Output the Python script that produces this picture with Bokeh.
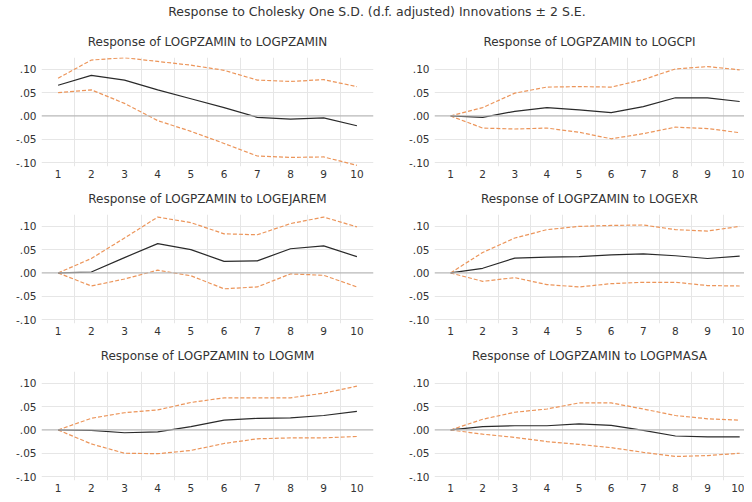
from bokeh.plotting import figure
from bokeh.layouts import column, row
from bokeh.models import Div, FixedTicker, CustomJSTickFormatter, Span, Range1d
from bokeh.embed import file_html
from bokeh.resources import INLINE

periods = [1, 2, 3, 4, 5, 6, 7, 8, 9, 10]
y_ticks = [-0.10, -0.05, 0.0, 0.05, 0.10]
grid_x = [1.5, 2.5, 3.5, 4.5, 5.5, 6.5, 7.5, 8.5, 9.5]

main_title = "Response to Cholesky One S.D. (d.f. adjusted) Innovations \u00b1 2 S.E."
panel_titles = [
    "Response of LOGPZAMIN to LOGPZAMIN",
    "Response of LOGPZAMIN to LOGCPI",
    "Response of LOGPZAMIN to LOGEJAREM",
    "Response of LOGPZAMIN to LOGEXR",
    "Response of LOGPZAMIN to LOGMM",
    "Response of LOGPZAMIN to LOGPMASA",
]

resp_pzamin = [0.066, 0.087, 0.077, 0.056, 0.037, 0.018, -0.003, -0.007, -0.004, -0.021]
upper_pzamin = [0.081, 0.120, 0.125, 0.117, 0.109, 0.098, 0.077, 0.074, 0.078, 0.063]
lower_pzamin = [0.050, 0.056, 0.027, -0.010, -0.033, -0.059, -0.086, -0.089, -0.088, -0.106]

resp_cpi = [0.0, -0.003, 0.010, 0.018, 0.013, 0.007, 0.020, 0.039, 0.039, 0.031]
upper_cpi = [0.0, 0.018, 0.049, 0.062, 0.063, 0.062, 0.078, 0.101, 0.106, 0.099]
lower_cpi = [0.0, -0.026, -0.028, -0.026, -0.035, -0.049, -0.038, -0.024, -0.027, -0.036]

resp_ejarem = [0.0, 0.002, 0.033, 0.063, 0.050, 0.025, 0.026, 0.052, 0.058, 0.035]
upper_ejarem = [0.0, 0.031, 0.075, 0.120, 0.108, 0.084, 0.082, 0.106, 0.120, 0.099]
lower_ejarem = [0.0, -0.028, -0.013, 0.006, -0.006, -0.034, -0.030, -0.002, -0.005, -0.030]

resp_exr = [0.0, 0.010, 0.032, 0.034, 0.035, 0.039, 0.041, 0.037, 0.031, 0.036]
upper_exr = [0.0, 0.044, 0.075, 0.093, 0.100, 0.102, 0.103, 0.093, 0.090, 0.100]
lower_exr = [0.0, -0.018, -0.010, -0.025, -0.030, -0.023, -0.020, -0.020, -0.027, -0.028]

resp_mm = [0.0, -0.001, -0.006, -0.004, 0.007, 0.021, 0.025, 0.026, 0.031, 0.040]
upper_mm = [0.0, 0.025, 0.037, 0.043, 0.059, 0.069, 0.069, 0.069, 0.079, 0.094]
lower_mm = [0.0, -0.030, -0.050, -0.051, -0.044, -0.029, -0.019, -0.017, -0.017, -0.014]

resp_pmasa = [0.0, 0.007, 0.009, 0.009, 0.013, 0.010, -0.001, -0.013, -0.015, -0.015]
upper_pmasa = [0.0, 0.023, 0.038, 0.045, 0.058, 0.058, 0.045, 0.031, 0.024, 0.021]
lower_pmasa = [0.0, -0.009, -0.016, -0.025, -0.031, -0.038, -0.048, -0.057, -0.055, -0.050]

series = [
    (resp_pzamin, upper_pzamin, lower_pzamin),
    (resp_cpi, upper_cpi, lower_cpi),
    (resp_ejarem, upper_ejarem, lower_ejarem),
    (resp_exr, upper_exr, lower_exr),
    (resp_mm, upper_mm, lower_mm),
    (resp_pmasa, upper_pmasa, lower_pmasa),
]

FONT = "DejaVu Sans"
TXT = "#333333"
fmt = CustomJSTickFormatter(code="""
var s = tick.toFixed(2);
if (s == "-0.00") { s = "0.00"; }
return s.replace("0.", ".");
""")


def make_panel(i, title, resp, upper, lower):
    right = (i % 2 == 1)
    if right:
        w, xr, mbr = 342, Range1d(0.5, 10.15), 0
    else:
        w, xr, mbr = 402, Range1d(0.5, 10.5), 29
    p = figure(width=w, height=157, x_range=xr, y_range=Range1d(-0.1085, 0.1255),
               output_backend="svg", toolbar_location=None,
               min_border_left=41 if not right else 32, min_border_right=mbr,
               min_border_top=0, min_border_bottom=15)
    p.title.text = title
    p.title.align = "center"
    p.title.text_font = FONT
    p.title.text_font_size = "12px"
    p.title.text_font_style = "normal"
    p.title.text_color = TXT
    p.title.standoff = 17
    p.outline_line_color = None
    p.background_fill_color = "white"
    p.border_fill_color = "white"

    p.xaxis.ticker = FixedTicker(ticks=periods)
    p.yaxis.ticker = FixedTicker(ticks=y_ticks)
    p.yaxis.formatter = fmt
    for ax in (p.xaxis, p.yaxis):
        ax.axis_line_color = None
        ax.major_tick_line_color = None
        ax.minor_tick_line_color = None
        ax.major_tick_out = 0
        ax.major_tick_in = 0
        ax.minor_tick_out = 0
        ax.minor_tick_in = 0
        ax.major_label_text_font = FONT
        ax.major_label_text_font_size = "10.5px"
        ax.major_label_text_color = TXT
    p.xaxis.major_label_standoff = 3
    p.yaxis.major_label_standoff = 5

    p.xgrid.ticker = FixedTicker(ticks=grid_x)
    p.xgrid.grid_line_color = "#e6e6e6"
    p.ygrid.ticker = FixedTicker(ticks=[-0.10, -0.05, 0.05, 0.10])
    p.ygrid.grid_line_color = "#e6e6e6"

    p.add_layout(Span(location=0, dimension="width", line_color="#b8b8b8", line_width=1.3))

    p.line(periods, upper, line_color="#ec955a", line_width=1.2, line_dash="4 2")
    p.line(periods, lower, line_color="#ec955a", line_width=1.2, line_dash="4 2")
    p.line(periods, resp, line_color="#2a2a2a", line_width=1.2)
    return p


figs = [make_panel(i, panel_titles[i], *series[i]) for i in range(6)]

head = Div(text=main_title, width=744, height=14,
           styles={"text-align": "center", "font-size": "12.5px", "font-family": FONT,
                   "color": TXT, "line-height": "14px", "width": "744px"})

layout = column(head,
                row(figs[0], figs[1], spacing=0),
                row(figs[2], figs[3], spacing=0),
                row(figs[4], figs[5], spacing=0),
                spacing=0)

open("out.html", "w").write(file_html(layout, INLINE))
